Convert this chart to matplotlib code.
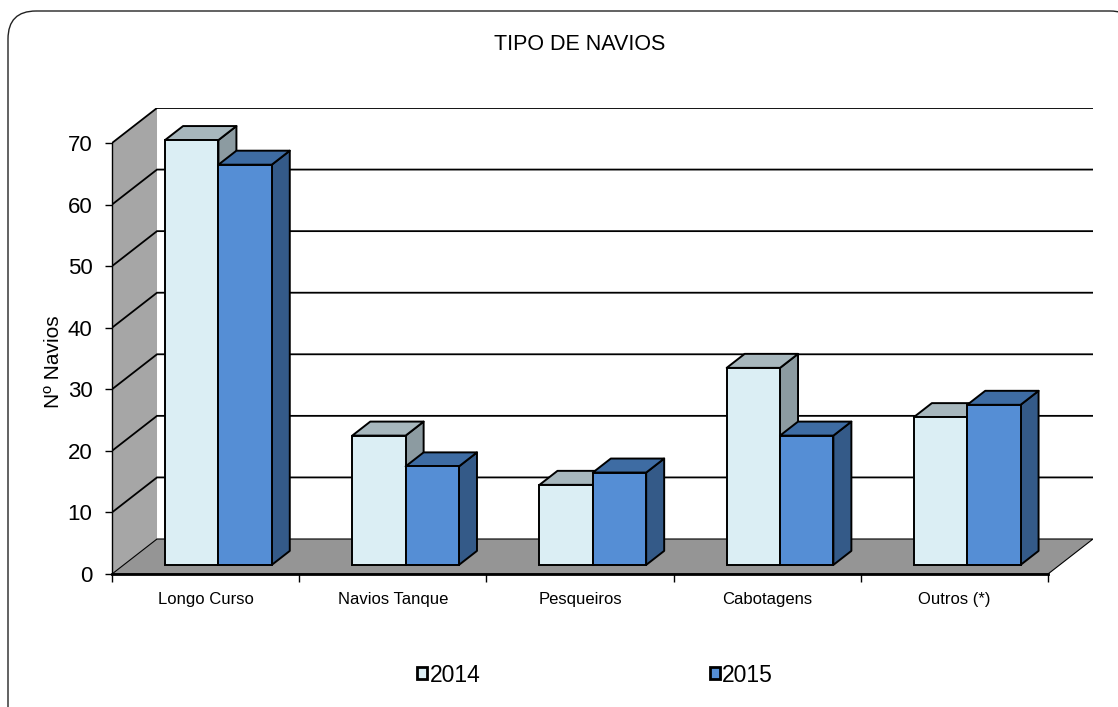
import matplotlib.pyplot as plt
from matplotlib.patches import Polygon, FancyBboxPatch, Patch

plt.rcParams['font.family'] = ['Liberation Sans', 'DejaVu Sans']

categories = ['Longo Curso', 'Navios Tanque', 'Pesqueiros', 'Cabotagens', 'Outros (*)']
series = ['2014', '2015']
values_2014 = [69, 21, 13, 32, 24]
values_2015 = [65, 16, 15, 21, 26]
yticks = [0, 10, 20, 30, 40, 50, 60, 70]

# oblique "3d" depth in data units
DX, DY = 0.2404, 5.685
F0, F1 = 0.26, 0.66      # bar front / back depth fraction
W = 0.285                # bar width
X0 = 0.221               # first bar offset inside category

front_cols = ['#dbeef4', '#558ed5']
top_cols = ['#a7b7bd', '#3e6ca3']
side_cols = ['#8c9ba1', '#345a88']

fig = plt.figure(figsize=(11.18, 7.07), dpi=100)

# rounded chart border (pixel coords)
bg = fig.add_axes([0, 0, 1, 1])
bg.set_xlim(0, 1118)
bg.set_ylim(707, 0)
bg.axis('off')
bg.add_patch(FancyBboxPatch((8, 11), 1130, 730, boxstyle='round,pad=0,rounding_size=28',
                            fc='none', ec='#222222', lw=1.0))

ax = fig.add_axes([112 / 1118, 1 - 574 / 707, 981 / 1118, 466 / 707])
ax.set_xlim(0, 5 + DX)
ax.set_ylim(0, 70 + DY)
ax.patch.set_alpha(0)
n = len(categories)

# left wall, floor
ax.add_patch(Polygon([(0, 0), (DX, DY), (DX, 70 + DY), (0, 70)], closed=True,
                     fc='#a6a6a6', ec='none', zorder=1))
ax.add_patch(Polygon([(0, 0), (n, 0), (n + DX, DY), (DX, DY)], closed=True,
                     fc='#959595', ec='black', lw=0.8, zorder=2))

# gridlines on walls
for v in yticks[1:]:
    ax.plot([0, DX, n + DX], [v, v + DY, v + DY], color='black', lw=1.3, zorder=1.6,
            solid_joinstyle='miter', solid_capstyle='butt')

# bars
b0 = F0 * DY
d = F1 - F0
for i in range(n):
    for s, vals in enumerate([values_2014, values_2015]):
        v = vals[i]
        xl = i + X0 + s * W + F0 * DX
        xr = xl + W
        ddx, ddy = d * DX, d * DY
        z = 3 + i + s * 0.5
        ax.add_patch(Polygon([(xr, b0), (xr + ddx, b0 + ddy), (xr + ddx, b0 + v + ddy), (xr, b0 + v)],
                             closed=True, fc=side_cols[s], ec='black', lw=1.4, zorder=z,
                             joinstyle='round'))
        ax.add_patch(Polygon([(xl, b0 + v), (xr, b0 + v), (xr + ddx, b0 + v + ddy), (xl + ddx, b0 + v + ddy)],
                             closed=True, fc=top_cols[s], ec='black', lw=1.4, zorder=z,
                             joinstyle='round'))
        ax.bar(xl, v, width=W, bottom=b0, align='edge', color=front_cols[s],
               edgecolor='black', lw=1.4, zorder=z + 0.1)

# axes styling
for sp in ['top', 'right']:
    ax.spines[sp].set_visible(False)
ax.spines['left'].set_bounds(0, 70)
ax.spines['left'].set_linewidth(1.0)
ax.spines['bottom'].set_bounds(0, n)
ax.spines['bottom'].set_linewidth(2.0)
ax.spines['bottom'].set_zorder(10)
ax.set_yticks(yticks)
ax.set_yticklabels([str(t) for t in yticks], fontsize=16)
ax.tick_params(axis='y', length=5, width=1, pad=9)
ax.set_xticks(range(n + 1))
ax.set_xticklabels([''] * (n + 1))
ax.set_xticks([i + 0.5 for i in range(n)], minor=True)
ax.set_xticklabels(categories, minor=True, fontsize=12)
ax.tick_params(axis='x', which='major', length=6, width=1)
ax.tick_params(axis='x', which='minor', length=0, pad=13)
ax.set_xlim(0, 5 + DX)
ax.set_ylim(0, 70 + DY)
ax.set_ylabel('Nº Navios', fontsize=15)
ax.yaxis.set_label_coords(-0.050, 0.455)

fig.text(580 / 1118, 1 - 45 / 707, 'TIPO DE NAVIOS', ha='center', va='center', fontsize=15.5)

handles = [Patch(fc=front_cols[s], ec='black', lw=2) for s in range(2)]
fig.legend(handles, series, loc='center', bbox_to_anchor=(595 / 1118, 1 - 675 / 707), ncol=2,
           frameon=False, fontsize=16.5, handlelength=0.45, handleheight=0.45,
           handletextpad=0.1, columnspacing=10.0)

fig.savefig('out.png', dpi=100)
